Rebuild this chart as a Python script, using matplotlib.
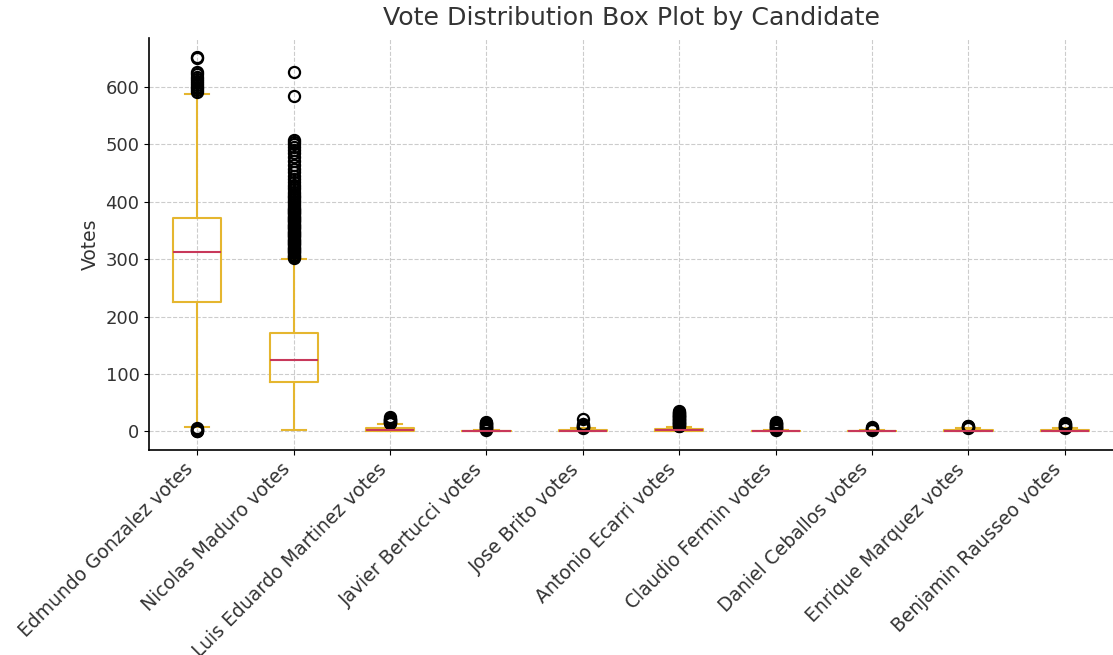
import matplotlib.pyplot as plt

candidates = [
    "Edmundo Gonzalez votes", "Nicolas Maduro votes", "Luis Eduardo Martinez votes",
    "Javier Bertucci votes", "Jose Brito votes", "Antonio Ecarri votes",
    "Claudio Fermin votes", "Daniel Ceballos votes", "Enrique Marquez votes",
    "Benjamin Rausseo votes",
]

# five-number summaries per candidate
q1 = [226, 86, 1, 0, 0, 1, 0, 0, 0, 0]
median = [313, 124, 3, 0, 1, 2, 0, 0, 1, 1]
q3 = [371, 171, 6, 1, 2, 4, 1, 1, 2, 2]
whislo = [7, 2, 0, 0, 0, 0, 0, 0, 0, 0]
whishi = [588, 300, 13, 2, 5, 8, 2, 2, 5, 5]

# outliers
fliers = [
    [0, 1, 2, 3, 4, 5, 592, 595, 598, 601, 604, 607, 610, 614, 618, 622, 626, 650, 653],
    [302, 304, 306, 308, 310, 312, 314, 316, 318, 320, 322, 324, 326, 328, 330,
     332, 334, 336, 338, 340, 342, 344, 346, 348, 350, 352, 354, 356, 358, 360,
     362, 364, 366, 368, 370, 372, 374, 376, 378, 380, 382, 384, 386, 388, 390,
     393, 396, 399, 402, 405, 408, 411, 414, 418, 422, 426, 430, 435, 440, 445,
     452, 458, 465, 472, 478, 485, 490, 495, 500, 504, 508, 585, 627],
    [14, 15, 16, 17, 18, 19, 20, 21, 22, 24],
    [3, 4, 5, 6, 7, 8, 9, 10, 11, 12, 13, 14, 15, 17],
    [6, 7, 8, 9, 10, 11, 12, 21],
    [9, 10, 11, 12, 13, 14, 15, 16, 17, 18, 19, 20, 21, 22, 23, 24, 25, 26,
     27, 28, 29, 30, 31, 32, 33, 35],
    [3, 4, 5, 6, 7, 8, 9, 10, 11, 12, 13, 14, 15, 17],
    [3, 4, 5, 6, 7],
    [6, 7, 8, 9, 10],
    [6, 7, 8, 9, 10, 11, 12, 13, 14],
]

stats = []
for i, name in enumerate(candidates):
    stats.append({
        "label": name, "q1": q1[i], "med": median[i], "q3": q3[i],
        "whislo": whislo[i], "whishi": whishi[i], "fliers": fliers[i],
    })

box_color = "#e5b62f"
median_color = "#c8385a"

fig = plt.figure(figsize=(11.13, 6.55), dpi=100)
ax = fig.add_axes([0.134, 0.313, 0.866, 0.629])

ax.bxp(
    stats, widths=0.5,
    boxprops=dict(color=box_color, linewidth=1.5),
    whiskerprops=dict(color=box_color, linewidth=1.5),
    capprops=dict(color=box_color, linewidth=1.5),
    medianprops=dict(color=median_color, linewidth=1.5),
    flierprops=dict(marker="o", markerfacecolor="none", markeredgecolor="black",
                    markersize=8, markeredgewidth=1.6),
)

ax.set_xlim(0.5, 10.5)
ax.grid(True, linestyle="--", color="#cccccc", linewidth=0.8)
ax.set_axisbelow(True)
for side in ["top", "right"]:
    ax.spines[side].set_visible(False)
ax.spines["left"].set_linewidth(1.2)
ax.spines["bottom"].set_linewidth(1.2)

ax.set_xticklabels(candidates, rotation=45, ha="right", fontsize=13.5, color="#333333")
ax.tick_params(axis="y", labelsize=13, labelcolor="#333333")
ax.set_ylabel("Votes", fontsize=13.5, color="#333333")
ax.set_title("Vote Distribution Box Plot by Candidate", fontsize=18.2, color="#333333", pad=9)

fig.savefig("out.png")
